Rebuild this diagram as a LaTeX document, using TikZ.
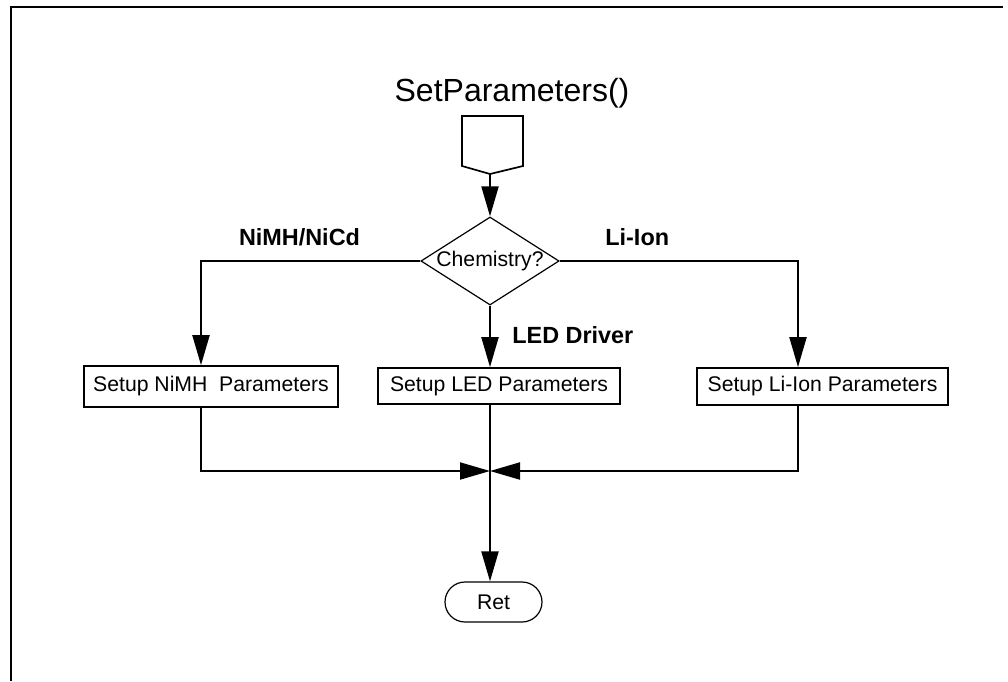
\documentclass[tikz,border=0pt]{standalone}
\usepackage{fontspec}
\setmainfont{Liberation Sans}
\usepackage{tikz}
\usetikzlibrary{positioning}
\usetikzlibrary{shapes.geometric,arrows.meta}

\begin{document}
\begin{tikzpicture}[x=0.5pt, y=-0.5pt, font=\fontsize{10.6}{12}\selectfont,
    box/.style={draw, line width=0.85pt, inner sep=0pt},
    lbl/.style={inner sep=0pt, font=\bfseries\fontsize{11.7}{14}\selectfont},
    flow/.style={line width=1pt, -{Triangle[length=15pt,width=8.5pt]}}]
    \useasboundingbox (0,0) rectangle (1008,681);
    \draw[line width=1pt] (1003,7) -- (11,7) -- (11,681);

    \node(title) [anchor=base] at (512,101) {\fontsize{16}{19}\selectfont SetParameters()};
    % off-page connector
    \draw[line width=0.85pt] (462,116) -- (523,116) -- (523,166) -- (490,174) -- (462,166) -- cycle;
    \coordinate(entry) at (490,174);
    \node(chem) [draw, diamond, aspect=1.57, line width=0.6pt, inner sep=0pt, minimum width=69pt, minimum height=44pt] at (490,261) {Chemistry?};

    \node(nimh) [box, minimum width=127pt, minimum height=20.5pt] at (211,386.5) {Setup NiMH\ \ Parameters};
    \node(led) [box, minimum width=121pt, minimum height=18pt] at (499,386) {Setup LED Parameters};
    \node(liion) [box, minimum width=125.5pt, minimum height=18.5pt] at (822.5,386.5) {Setup Li-Ion Parameters};
    \node(ret) [draw, line width=0.6pt, rounded corners=10pt, minimum width=48.5pt, minimum height=20pt] at (493.5,602) {Ret};
    \coordinate(join) at (490,471);

    \node(nimhl) [lbl] at (299.5,237) {NiMH/NiCd};
    \node(liionl) [lbl, anchor=west] at (605,237) {Li-Ion};
    \node(ledl) [lbl, anchor=west] at (512,335) {LED Driver};

    \draw[flow](entry) -- (chem.north);
    \draw[flow](chem.west) -| ([xshift=-5pt]nimh.north);
    \draw[flow](chem.east) -| ([xshift=-12.25pt]liion.north);
    \draw[flow](chem.south) -- (chem.south |- led.north);
    \draw[flow]([xshift=-5pt]nimh.south) |- (join);
    \draw[flow]([xshift=-12.25pt]liion.south) |- (join);
    \draw[flow](chem.south |- led.south) -- (chem.south |- ret.north);
  \end{tikzpicture}
\end{document}
